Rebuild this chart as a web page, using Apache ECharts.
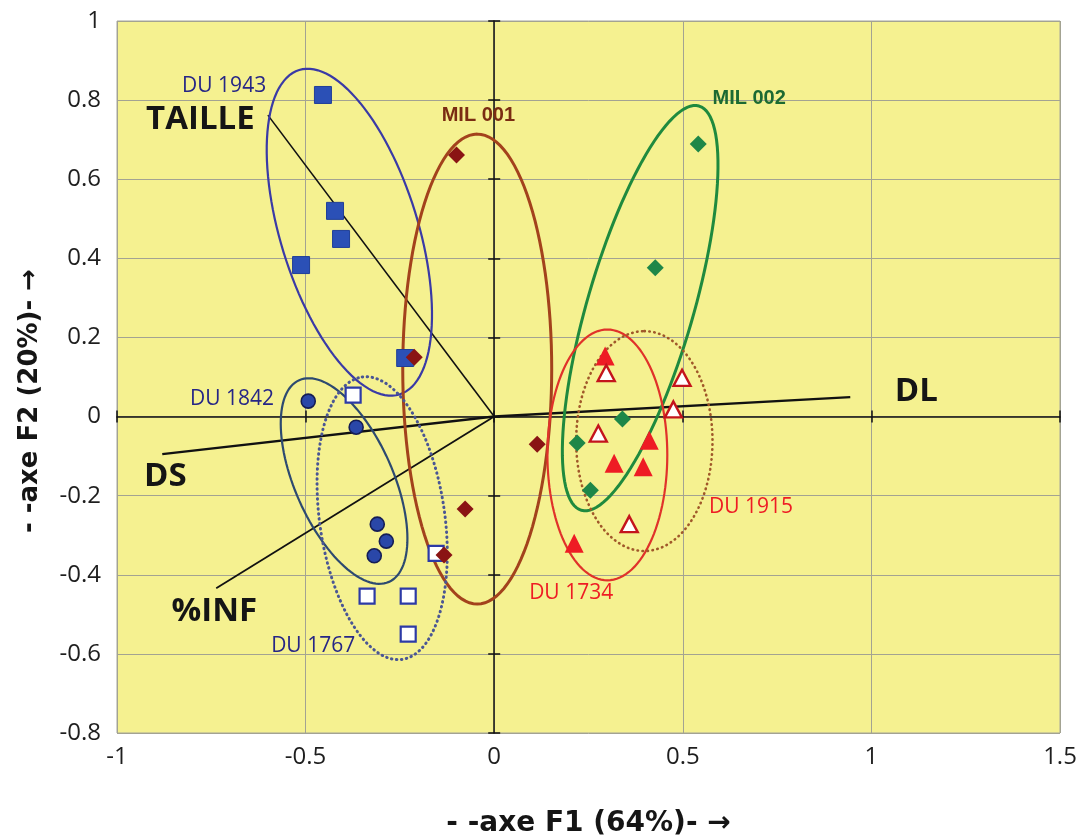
<!DOCTYPE html>
<html><head><meta charset="utf-8">
<script src="https://cdn.jsdelivr.net/npm/echarts@6/dist/echarts.min.js"></script>
<style>html,body{margin:0;padding:0;background:#fff}#c{width:1077px;height:837px}</style>
</head><body><div id="c"></div>
<script>
// ---- data ----
const xRange = [-1, 1.5];
const yRange = [-0.8, 1];
const du1943 = [[-0.454,0.813],[-0.422,0.52],[-0.406,0.449],[-0.512,0.383],[-0.236,0.148]];
const du1842 = [[-0.493,0.039],[-0.366,-0.027],[-0.31,-0.272],[-0.286,-0.315],[-0.318,-0.352]];
const du1767 = [[-0.374,0.054],[-0.154,-0.346],[-0.337,-0.454],[-0.228,-0.454],[-0.228,-0.55]];
const mil001 = [[-0.1,0.661],[-0.212,0.15],[-0.077,-0.234],[-0.133,-0.35],[0.114,-0.07]];
const mil002 = [[0.541,0.689],[0.427,0.376],[0.34,-0.006],[0.22,-0.067],[0.255,-0.186]];
const du1734 = [[0.294,0.153],[0.411,-0.06],[0.318,-0.118],[0.395,-0.127],[0.212,-0.32]];
const du1915 = [[0.297,0.11],[0.498,0.098],[0.475,0.018],[0.276,-0.043],[0.358,-0.272]];
// variable vectors (end point of arrow from origin)
const vectors = [['TAILLE',-0.6,0.762],['DL',0.944,0.049],['DS',-0.88,-0.095],['%INF',-0.737,-0.434]];
// ellipses: group, centre x, centre y, major semi-axis vector (x,y), minor/major ratio
const ellipses = [
  ['DU 1943', -0.384, 0.466, -0.133, 0.41, 0.405],
  ['MIL 001', -0.045, 0.12, 0, 0.594, 0.317],
  ['MIL 002', 0.387, 0.274, 0.156, 0.511, 0.252],
  ['DU 1734', 0.30, -0.097, 0, 0.317, 0.478],
  ['DU 1915', 0.398, -0.062, 0, 0.278, 0.62],
  ['DU 1842', -0.398, -0.163, -0.119, 0.255, 0.443],
  ['DU 1767', -0.297, -0.257, -0.053, 0.357, 0.439]
];
// text annotations (label, x, y)
const labels = [
  ['DU 1943',-0.716,0.836],['TAILLE',-0.779,0.752],['MIL 001',-0.042,0.762],['MIL 002',0.676,0.805],
  ['DU 1842',-0.695,0.044],['DS',-0.872,-0.153],['DL',1.119,0.062],['%INF',-0.742,-0.494],
  ['DU 1767',-0.48,-0.58],['DU 1915',0.681,-0.229],['DU 1734',0.204,-0.446]
];

// ---- styles ----
const ellipseStyle = {
  'DU 1943': {stroke:'#3a3aa6', lineWidth:2.2},
  'MIL 001': {stroke:'#a3421c', lineWidth:3},
  'MIL 002': {stroke:'#1f8a3e', lineWidth:3},
  'DU 1734': {stroke:'#e0322a', lineWidth:2.2},
  'DU 1915': {stroke:'#a0582a', lineWidth:2.6, lineDash:[0.5,4.5], lineCap:'round'},
  'DU 1842': {stroke:'#2d4a70', lineWidth:2.2},
  'DU 1767': {stroke:'#4a5694', lineWidth:3, lineDash:[0.5,4.5], lineCap:'round'}
};
const vectorWidth = {'TAILLE':1.6,'DL':2.4,'DS':2.4,'%INF':1.8};
const regFont = "'Open Sans', 'Noto Sans', sans-serif";
const titleFont = "'DejaVu Sans', sans-serif";
const boldLbl = {fontFamily:regFont, fontWeight:'bold', fontSize:33, color:'#151515'};
const labelStyle = {
  'DU 1943': {fontFamily:regFont, fontSize:21, color:'#262686'},
  'DU 1842': {fontFamily:regFont, fontSize:21, color:'#262686'},
  'DU 1767': {fontFamily:regFont, fontSize:21, color:'#262686'},
  'DU 1915': {fontFamily:regFont, fontSize:21, color:'#ee1c24'},
  'DU 1734': {fontFamily:regFont, fontSize:21, color:'#ee1c24'},
  'MIL 001': {fontFamily:"'Liberation Sans Narrow','Liberation Sans',sans-serif", fontWeight:'bold', fontSize:20, color:'#7a2c12'},
  'MIL 002': {fontFamily:"'Liberation Sans Narrow','Liberation Sans',sans-serif", fontWeight:'bold', fontSize:20, color:'#1c6a32'},
  'TAILLE': boldLbl, 'DS': boldLbl, 'DL': boldLbl, '%INF': boldLbl
};

const chart = echarts.init(document.getElementById('c'), null, {renderer:'canvas'});

function ellipseRender(params, api) {
  const e = ellipses[params.dataIndex];
  const c = api.coord([api.value(0), api.value(1)]);
  const p = api.coord([api.value(0) + api.value(2), api.value(1) + api.value(3)]);
  const ux = p[0]-c[0], uy = p[1]-c[1];
  const r = api.value(4);
  const vx = -uy*r, vy = ux*r;
  const pts = [];
  const n = 120;
  for (let i = 0; i < n; i++) {
    const t = 2*Math.PI*i/n;
    pts.push([c[0] + ux*Math.cos(t) + vx*Math.sin(t), c[1] + uy*Math.cos(t) + vy*Math.sin(t)]);
  }
  const st = Object.assign({fill:'none'}, ellipseStyle[e[0]]);
  return {type:'polygon', shape:{points:pts}, style:st, z2:1};
}
function vectorRender(params, api) {
  const o = api.coord([0,0]);
  const p = api.coord([api.value(0), api.value(1)]);
  return {type:'line', shape:{x1:o[0],y1:o[1],x2:p[0],y2:p[1]},
          style:{stroke:'#111', lineWidth:vectorWidth[vectors[params.dataIndex][0]]}};
}

const axisLabelFont = {fontFamily:regFont, fontSize:24, color:'#1e1e1e'};
const zeroLine = {show:true, onZero:true, lineStyle:{color:'#111', width:1.5}};
const option = {
  backgroundColor:'#ffffff',
  animation:false,
  grid:{left:117, right:17, top:21, bottom:104, outerBoundsMode:'none', containLabel:false,
        show:true, backgroundColor:'#f5f190', borderColor:'#a6a69a', borderWidth:1},
  xAxis:[
    {type:'value', min:xRange[0], max:xRange[1], interval:0.5, position:'bottom',
     axisLine:{show:false, onZero:false}, axisTick:{show:false},
     axisLabel:Object.assign({margin:12}, axisLabelFont),
     splitLine:{show:true, lineStyle:{color:'#a3a392', width:1}},
     name:'- -axe F1 (64%)- \u2192', nameLocation:'middle', nameGap:91, nameMoveOverlap:false,
     nameTextStyle:{fontFamily:titleFont, fontWeight:'bold', fontSize:28, color:'#151515', verticalAlign:'middle'}},
    {type:'value', min:xRange[0], max:xRange[1], interval:0.5, position:'bottom',
     axisLine:Object.assign({onZeroAxisIndex:0}, zeroLine),
     axisTick:{show:true, length:6, lineStyle:{color:'#111', width:1.5}},
     axisLabel:{show:false}, splitLine:{show:false}},
    {type:'value', min:xRange[0], max:xRange[1], interval:0.5, position:'top',
     axisLine:{show:false, onZero:true, onZeroAxisIndex:0},
     axisTick:{show:true, length:6, lineStyle:{color:'#111', width:1.5}},
     axisLabel:{show:false}, splitLine:{show:false}}
  ],
  yAxis:[
    {type:'value', min:yRange[0], max:yRange[1], interval:0.2, position:'left',
     axisLine:{show:false, onZero:false}, axisTick:{show:false},
     axisLabel:Object.assign({margin:16, formatter:v => String(Math.round(v*10)/10)}, axisLabelFont),
     splitLine:{show:true, lineStyle:{color:'#a3a392', width:1}},
     name:'- -axe F2 (20%)- \u2192', nameLocation:'middle', nameGap:74, nameRotate:90,
     nameTextStyle:{fontFamily:titleFont, fontWeight:'bold', fontSize:26, color:'#151515', padding:[0,48,0,0]}},
    {type:'value', min:yRange[0], max:yRange[1], interval:0.2, position:'left',
     axisLine:Object.assign({onZeroAxisIndex:0}, zeroLine),
     axisTick:{show:true, length:6, lineStyle:{color:'#111', width:1.5}},
     axisLabel:{show:false}, splitLine:{show:false}},
    {type:'value', min:yRange[0], max:yRange[1], interval:0.2, position:'right',
     axisLine:{show:false, onZero:true, onZeroAxisIndex:0},
     axisTick:{show:true, length:6, lineStyle:{color:'#111', width:1.5}},
     axisLabel:{show:false}, splitLine:{show:false}}
  ],
  series:[
    {type:'custom', name:'vectors', renderItem:vectorRender, z:3,
     data:vectors.map(v => [v[1], v[2]]), encode:{x:0, y:1}},
    {type:'custom', name:'ellipses', renderItem:ellipseRender, z:4,
     data:ellipses.map(e => ({name:e[0], value:e.slice(1)})), encode:{x:0, y:1}},
    {type:'scatter', name:'DU 1943', data:du1943, symbol:'rect', symbolSize:17, z:5,
     itemStyle:{color:'#2b50b6', borderColor:'#203f98', borderWidth:1, opacity:1}},
    {type:'scatter', name:'DU 1842', data:du1842, symbol:'circle', symbolSize:14, z:5,
     itemStyle:{color:'#2a47a8', borderColor:'#151d55', borderWidth:1.6, opacity:1}},
    {type:'scatter', name:'DU 1767', data:du1767, symbol:'rect', symbolSize:15, z:5,
     itemStyle:{color:'#ffffff', borderColor:'#2c3aa6', borderWidth:2.2, opacity:1}},
    {type:'scatter', name:'MIL 001', data:mil001, symbol:'diamond', symbolSize:17, z:5,
     itemStyle:{color:'#8a1414', opacity:1}},
    {type:'scatter', name:'MIL 002', data:mil002, symbol:'diamond', symbolSize:17, z:5,
     itemStyle:{color:'#1e8748', opacity:1}},
    {type:'scatter', name:'DU 1734', data:du1734, symbol:'triangle', symbolSize:[19,19], z:5,
     itemStyle:{color:'#ee1c24', opacity:1}},
    {type:'scatter', name:'DU 1915', data:du1915, symbol:'triangle', symbolSize:[17,16], z:5,
     itemStyle:{color:'#ffffff', borderColor:'#c4141c', borderWidth:2.4, opacity:1}},
    {type:'scatter', name:'labels', z:6, symbolSize:1, silent:true,
     itemStyle:{color:'rgba(0,0,0,0)', opacity:1},
     data:labels.map(l => ({name:l[0], value:[l[1], l[2]],
       label:Object.assign({show:true, position:'inside', formatter:l[0]}, labelStyle[l[0]])}))}
  ]
};
chart.setOption(option);
</script>
</body></html>
